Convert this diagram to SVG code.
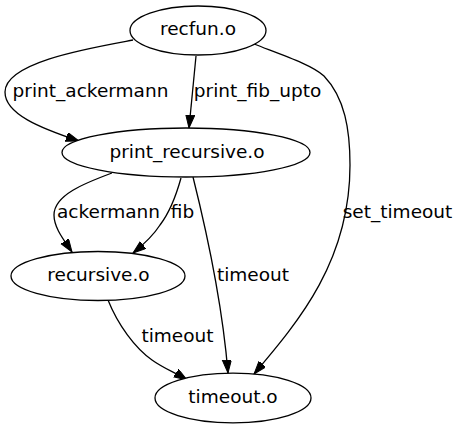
<svg xmlns="http://www.w3.org/2000/svg" width="458" height="429" viewBox="0 0 458 429">
<style>
.node ellipse{fill:#fff;stroke:#000;stroke-width:1.3}
text{font-family:"DejaVu Sans",sans-serif;font-size:18.5px;fill:#000;text-anchor:middle}
.edge path{fill:none;stroke:#000;stroke-width:1.3;marker-end:url(#arr)}
</style>
<defs>
<marker id="arr" markerUnits="userSpaceOnUse" markerWidth="14" markerHeight="10" refX="13" refY="4.5" orient="auto">
<path d="M0,0 L13,4.5 L0,9 z" fill="#000" stroke="#000" stroke-width="1"/>
</marker>
</defs>
<rect width="458" height="429" fill="#fff"/>
<g id="edges">
<g class="edge"><path d="M133,40 C90,48 5,62 5,92 C5,114 40,128 79,141"/><text x="90.5" y="97">print_ackermann</text></g>
<g class="edge"><path d="M196,56 L189,128"/><text x="257.5" y="97">print_fib_upto</text></g>
<g class="edge"><path d="M254,44 C285,56 312,65 324,76 C345,98 350,130 350,165 C350,260 300,320 254,374"/><text x="397.5" y="218">set_timeout</text></g>
<g class="edge"><path d="M112,173 C85,183 54,195 54,215 C54,228 64,240 72,252"/><text x="108.5" y="218">ackermann</text></g>
<g class="edge"><path d="M181,178 C176,196 170,212 160,225 C153,236 143,245 133,253"/><text x="182.5" y="218">fib</text></g>
<g class="edge"><path d="M193,177 C205,225 222,300 228,373"/><text x="253" y="281">timeout</text></g>
<g class="edge"><path d="M108,300 C118,325 135,348 152,360 C163,368 176,373 187,380"/><text x="177.5" y="342">timeout</text></g>
</g>
<g id="recfun" class="node"><ellipse cx="198" cy="30.5" rx="68" ry="24.5"/><text x="198" y="35">recfun.o</text></g>
<g id="print_recursive" class="node"><ellipse cx="186" cy="152.5" rx="124" ry="24.5"/><text x="187" y="158">print_recursive.o</text></g>
<g id="recursive" class="node"><ellipse cx="98" cy="276" rx="87" ry="24.5"/><text x="98.5" y="281">recursive.o</text></g>
<g id="timeout" class="node"><ellipse cx="233" cy="398" rx="78" ry="24.8"/><text x="233" y="403">timeout.o</text></g>
</svg>
